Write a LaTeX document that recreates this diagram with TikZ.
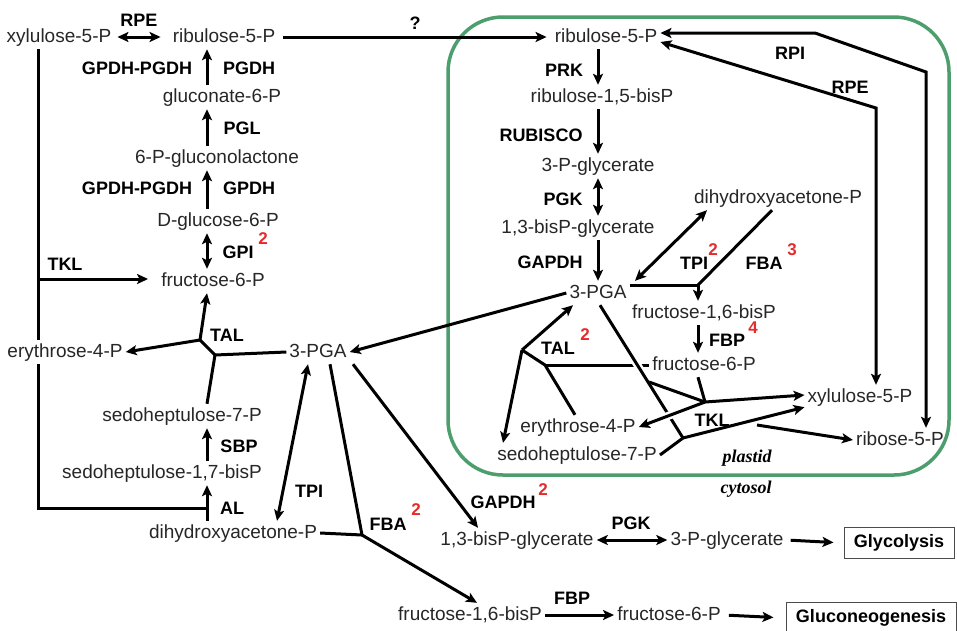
\documentclass[tikz,border=0pt]{standalone}
\usepackage{fontspec}
\setmainfont{Liberation Sans}
\newfontfamily\compfont{Liberation Serif}
\usepackage{tikz}
\usetikzlibrary{arrows.meta}
\definecolor{plastidgreen}{RGB}{76,158,108}
\definecolor{numred}{RGB}{228,44,44}
\tikzset{met/.style = {text=black!85, font=\fontsize{19}{22}\selectfont, text height=14pt, text depth=4pt, inner sep=3pt}}
\tikzset{enz/.style = {font=\fontsize{18}{21}\selectfont\bfseries, inner sep=0}}
\tikzset{num/.style = {text=numred, font=\fontsize{17}{20}\selectfont\bfseries, inner sep=0}}
\tikzset{comp/.style = {font=\compfont\fontsize{18}{21}\selectfont\bfseries\itshape, inner sep=0}}
\tikzset{endbox/.style = {draw=black!70, line width=1pt, font=\fontsize{18}{21}\selectfont\bfseries, minimum height=31pt, inner sep=0}}
\tikzset{link/.style = {line width=3pt}}
\tikzset{flow/.style = {line width=3pt, ->}}
\tikzset{rev/.style = {line width=3pt, <->}}
\tikzset{halo/.style = {preaction={draw, white, line width=8pt, -, shorten <=5pt, shorten >=5pt}}}

\begin{document}
\begin{tikzpicture}[x=1pt, y=-1pt, >={Stealth[length=11pt, width=10pt, inset=2.5pt]}]
    \useasboundingbox (0,0) rectangle (957,630);
    \draw [plastidgreen, line width=3.5pt, rounded corners=55pt] (448,17) rectangle (949,475);
    \coordinate (colL) at (207,0);
    \coordinate (colP) at (598,0);
    \coordinate (lv) at (38,0);
    \node [met] (cX5P) at (59,37) {xylulose-5-P};
    \node [met] (cRu5P) at (224,37) {ribulose-5-P};
    \node [met] (cGlcn) at (222,97) {gluconate-6-P};
    \node [met] (cPGL) at (217,158) {6-P-gluconolactone};
    \node [met] (cG6P) at (218,221) {D-glucose-6-P};
    \node [met] (cF6P) at (213,281) {fructose-6-P};
    \node [met] (cE4P) at (65,352) {erythrose-4-P};
    \node [met] (cPGA) at (318,352) {3-PGA};
    \node [met] (cS7P) at (182,416) {sedoheptulose-7-P};
    \node [met] (cSBP) at (162,473) {sedoheptulose-1,7-bisP};
    \node [met] (cDHAP) at (233,533) {dihydroxyacetone-P};
    \node [met] (cBPG) at (517,540) {1,3-bisP-glycerate};
    \node [met] (cPG) at (727,540) {3-P-glycerate};
    \node [met] (cFBP) at (470,615) {fructose-1,6-bisP};
    \node [met] (cF6Pg) at (669,615) {fructose-6-P};
    \node [endbox, minimum width=110pt] (glyc) at (899,543) {Glycolysis};
    \node [endbox, minimum width=170pt] (gng) at (871,618) {Gluconeogenesis};
    \node [met] (pRu5P) at (606,37) {ribulose-5-P};
    \node [met] (pRuBP) at (602,97) {ribulose-1,5-bisP};
    \node [met] (pPG) at (598,166) {3-P-glycerate};
    \node [met] (pBPG) at (578,228) {1,3-bisP-glycerate};
    \node [met] (pPGA) at (598,293) {3-PGA};
    \node [met] (pDHAP) at (778,198) {dihydroxyacetone-P};
    \node [met] (pFBP) at (704,313) {fructose-1,6-bisP};
    \node [met] (pF6P) at (704,365) {fructose-6-P};
    \node [met] (pX5P) at (860,397) {xylulose-5-P};
    \node [met] (pR5P) at (900,440) {ribose-5-P};
    \node [met] (pE4P) at (578,427) {erythrose-4-P};
    \node [met] (pS7P) at (577,455) {sedoheptulose-7-P};
    \draw [rev, shorten <=3pt, shorten >=9pt] (cX5P.east) -- (cRu5P.west);
    \draw [flow, shorten <=5pt, shorten >=5pt] (cRu5P.east) -- (pRu5P.west);
    \draw [flow] (cGlcn.north -| colL) -- (cRu5P.south -| colL);
    \draw [flow] (cPGL.north -| colL) -- (cGlcn.south -| colL);
    \draw [flow] (cG6P.north -| colL) -- (cPGL.south -| colL);
    \draw [rev] (cF6P.north -| colL) -- (cG6P.south -| colL);
    \coordinate (tklL) at (38,279);
    \coordinate (alJ) at (207,508);
    \draw [link] (cX5P.south -| lv) -- (cE4P.north -| lv);
    \draw [link] (cE4P.south -| lv) |- (alJ);
    \draw [flow, shorten >=10pt] (tklL) -- (cF6P.west |- tklL);
    \coordinate (talA) at (200,340);
    \coordinate (talB) at (215,355);
    \draw [flow] (talA) -- (cE4P.east);
    \draw [flow] (talA) -- (cF6P.south -| colL);
    \draw [link] (talA) -- (talB);
    \draw [link] (talB) -- (cPGA.west);
    \draw [link] (talB) -- (cS7P.north -| colL);
    \draw [flow] (cSBP.north -| colL) -- (cS7P.south -| colL);
    \draw [flow] (cDHAP.north -| colL) -- (cSBP.south -| colL);
    \draw [rev] ([xshift=44pt]cDHAP.north) -- ([xshift=-10pt]cPGA.south);
    \coordinate (fbaJ) at (362,535);
    \draw [link] (cDHAP.east) -- (fbaJ);
    \draw [link] ([xshift=12pt]cPGA.south) -- (fbaJ);
    \draw [flow] (fbaJ) -- ([xshift=7pt]cFBP.north);
    \draw [flow] ([xshift=35pt]cPGA.south) -- ([xshift=-39pt]cBPG.north);
    \draw [flow] (pPGA.west) -- (cPGA.east);
    \draw [rev] (cBPG.east) -- (cPG.west);
    \draw [flow, shorten <=4pt, shorten >=10pt] (cPG.east) -- (glyc.west);
    \draw [flow] (cFBP.east) -- (cF6Pg.west);
    \draw [flow, shorten <=5pt, shorten >=12pt] (cF6Pg.east) -- (gng.west);
    \draw [flow] (pRu5P.south -| colP) -- (pRuBP.north -| colP);
    \draw [flow] (pRuBP.south -| colP) -- (pPG.north -| colP);
    \draw [rev] (pPG.south -| colP) -- (pBPG.north -| colP);
    \draw [flow] (pBPG.south -| colP) -- (pPGA.north -| colP);
    \coordinate (rpi1) at (815,33);
    \coordinate (rpi2) at (926,72);
    \coordinate (rpe1) at (876,108);
    \draw [rev] ([yshift=4pt]pRu5P.east) -- (rpi1) -- (rpi2) -- (rpi2 |- pR5P.north);
    \draw [rev] ([yshift=-5pt]pRu5P.east) -- (rpe1) -- (rpe1 |- pX5P.north);
    \draw [rev] ([xshift=-71pt]pDHAP.south) -- ([xshift=37pt]pPGA.north);
    \coordinate (fbaP) at (698,285);
    \draw [link] ([xshift=-6pt]pDHAP.south) -- (fbaP);
    \draw [link] (pPGA.east |- fbaP) -- (fbaP);
    \draw [flow] (fbaP) -- (fbaP |- pFBP.north);
    \draw [flow] (pFBP.south -| fbaP) -- (pF6P.north -| fbaP);
    \coordinate (talP1) at (522,350);
    \coordinate (talP2) at (545,365);
    \draw [flow] (talP1) -- ([xshift=-25pt]pPGA.south);
    \draw [flow] (talP1) -- ([xshift=-74pt]pS7P.north);
    \draw [link] (talP1) -- (talP2);
    \draw [link] (talP2) -- (pF6P.west);
    \draw [link] (talP2) -- ([xshift=-3pt]pE4P.north);
    \coordinate (tklC) at (705,402);
    \coordinate (tklB) at (649,382);
    \coordinate (tklD) at (683,438);
    \coordinate (tklE) at (757,425);
    \draw [link, halo] ([xshift=2pt]pPGA.south) -- (tklD);
    \draw [flow, halo] (tklC) -- (pE4P.east);
    \draw [link] ([xshift=-6pt]pF6P.south) -- (tklC);
    \draw [link] (tklB) -- (tklC);
    \draw [flow] (tklC) -- ([yshift=2pt]pX5P.west);
    \draw [link] (pS7P.east) -- (tklD);
    \draw [flow] (tklD) -- ([yshift=2pt]pX5P.south west);
    \draw [flow] (tklE) -- (pR5P.west);
    \node [enz] (lRPEc) at (139,20) {RPE};
    \node [enz] (lQ) at (415,23) {?};
    \node [enz] (lGPc1) at (137,68) {GPDH-PGDH};
    \node [enz] (lPGDH) at (249,68) {PGDH};
    \node [enz] (lPGL) at (242,128) {PGL};
    \node [enz] (lGPc2) at (137,188) {GPDH-PGDH};
    \node [enz] (lGPDH) at (249,188) {GPDH};
    \node [enz] (lGPI) at (238,252) {GPI};
    \node [num] (nGPI) at (263,239) {2};
    \node [enz] (lTKLc) at (65,264) {TKL};
    \node [enz] (lTALc) at (227,335) {TAL};
    \node [enz] (lSBP) at (239,446) {SBP};
    \node [enz] (lAL) at (232,508) {AL};
    \node [enz] (lTPIc) at (309,491) {TPI};
    \node [enz] (lFBAc) at (388,524) {FBA};
    \node [num] (nFBAc) at (416,510) {2};
    \node [enz] (lGAPc) at (503,502) {GAPDH};
    \node [num] (nGAPc) at (543,490) {2};
    \node [enz] (lPGKc) at (631,523) {PGK};
    \node [enz] (lFBPc) at (572,598) {FBP};
    \node [enz] (lPRK) at (564,70) {PRK};
    \node [enz] (lRUB) at (541,135) {RUBISCO};
    \node [enz] (lPGKp) at (563,199) {PGK};
    \node [enz] (lGAPp) at (550,262) {GAPDH};
    \node [enz] (lTPIp) at (694,263) {TPI};
    \node [num] (nTPIp) at (713,250) {2};
    \node [enz] (lFBAp) at (764,263) {FBA};
    \node [num] (nFBAp) at (792,250) {3};
    \node [enz] (lRPI) at (790,53) {RPI};
    \node [enz] (lRPEp) at (850,87) {RPE};
    \node [enz] (lFBPp) at (727,340) {FBP};
    \node [num] (nFBPp) at (753,328) {4};
    \node [enz] (lTALp) at (558,348) {TAL};
    \node [num] (nTALp) at (585,335) {2};
    \node [enz] (lTKLp) at (712,420) {TKL};
    \node [comp] (lplastid) at (747,458) {plastid};
    \node [comp] (lcytosol) at (746,489) {cytosol};
\end{tikzpicture}
\end{document}
